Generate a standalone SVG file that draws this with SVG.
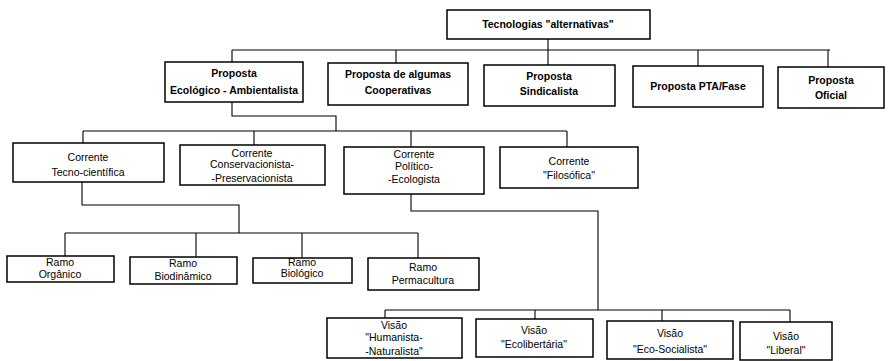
<svg xmlns="http://www.w3.org/2000/svg" width="892" height="361" viewBox="0 0 892 361">
<style>
rect{fill:#fff;stroke:#000;stroke-width:1.5}
text{font-family:"Liberation Sans",Arial,sans-serif;font-size:10.5px;text-anchor:middle;fill:#000}
.b text{font-weight:bold}
#connectors path{fill:none;stroke:#000;stroke-width:1.1}
</style>
<rect x="0" y="0" width="892" height="361" style="stroke:none"/>
<g id="connectors">
<path d="M548 39V65M232 50H830M232 50V62M396 50V63M698 50V67M828 50V68"/>
<path d="M232 102V116H336V131M83 131H567M83 131V143M254 131V145M411 131V147M567 131V147"/>
<path d="M82 182V205H239V233M65 233H418M65 233V256M196 233V257M302 233V258M418 233V258"/>
<path d="M411 194V211H598V310M385 310H790M385 310V318M535 310V319M662 310V321M790 310V322"/>
</g>
<g class="b">
<g id="n-tecnologias"><rect x="447" y="10" width="203" height="29"/><text x="548" y="28">Tecnologias "alternativas"</text></g>
<g id="n-ecologico"><rect x="165" y="62" width="138" height="40"/><text x="234" y="77">Proposta</text><text x="234" y="94">Ecológico - Ambientalista</text></g>
<g id="n-cooperativas"><rect x="328" y="63" width="140" height="42"/><text x="398" y="78">Proposta de algumas</text><text x="398" y="94">Cooperativas</text></g>
<g id="n-sindicalista"><rect x="484" y="65" width="131" height="41"/><text x="549" y="80">Proposta</text><text x="549" y="95">Sindicalista</text></g>
<g id="n-pta"><rect x="633" y="66" width="130" height="41"/><text x="698" y="90">Proposta PTA/Fase</text></g>
<g id="n-oficial"><rect x="778" y="67" width="106" height="41"/><text x="831" y="84">Proposta</text><text x="831" y="99">Oficial</text></g>
</g>
<g id="n-tecno"><rect x="13" y="143" width="151" height="39"/><text x="88" y="161">Corrente</text><text x="88" y="176">Tecno-científica</text></g>
<g id="n-conserv"><rect x="180" y="145" width="145" height="40"/><text x="252" y="157">Corrente</text><text x="252" y="168">Conservacionista-</text><text x="252" y="182">-Preservacionista</text></g>
<g id="n-politico"><rect x="344" y="147" width="140" height="47"/><text x="414" y="158">Corrente</text><text x="414" y="170">Político-</text><text x="414" y="183">-Ecologista</text></g>
<g id="n-filosofica"><rect x="500" y="147" width="138" height="41"/><text x="569" y="165">Corrente</text><text x="569" y="179">"Filosófica"</text></g>
<g id="n-organico"><rect x="7" y="256" width="107" height="26"/><text x="60" y="266">Ramo</text><text x="60" y="278">Orgânico</text></g>
<g id="n-biodinamico"><rect x="130" y="257" width="107" height="27"/><text x="183" y="267">Ramo</text><text x="183" y="280">Biodinâmico</text></g>
<g id="n-biologico"><rect x="253" y="258" width="99" height="25"/><text x="302" y="266">Ramo</text><text x="302" y="277">Biológico</text></g>
<g id="n-permacultura"><rect x="368" y="258" width="111" height="32"/><text x="423" y="271">Ramo</text><text x="423" y="284">Permacultura</text></g>
<g id="n-humanista"><rect x="327" y="318" width="135" height="40"/><text x="394" y="329">Visão</text><text x="394" y="341">"Humanista-</text><text x="394" y="355">-Naturalista"</text></g>
<g id="n-ecolibertaria"><rect x="476" y="319" width="117" height="38"/><text x="534" y="334">Visão</text><text x="534" y="348">"Ecolibertária"</text></g>
<g id="n-ecosocialista"><rect x="607" y="321" width="126" height="38"/><text x="670" y="337">Visão</text><text x="670" y="353">"Eco-Socialista"</text></g>
<g id="n-liberal"><rect x="740" y="322" width="92" height="38"/><text x="786" y="340">Visão</text><text x="786" y="354">"Liberal"</text></g>
</svg>
